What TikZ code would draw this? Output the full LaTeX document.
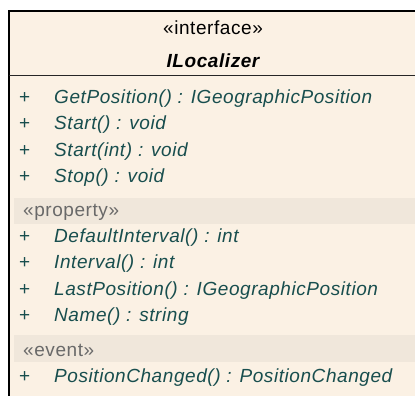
\documentclass[tikz,border=0pt]{standalone}
\usepackage{fontspec}
\setmainfont{Liberation Sans}[LetterSpace=3]
\definecolor{classbg}{RGB}{251,241,228}
\definecolor{bandbg}{RGB}{240,231,219}
\definecolor{membertext}{RGB}{24,78,78}
\definecolor{stereotext}{RGB}{105,105,105}
\tikzset{
  txt/.style={inner sep=0pt, font=\fontsize{19}{21}\selectfont},
  vis/.style={txt, anchor=base west, text=membertext},
  member/.style={txt, anchor=base west, text=membertext, font=\fontsize{19}{21}\selectfont\itshape},
  group/.style={txt, anchor=base west, text=stereotext},
  head/.style={txt, anchor=base, text=black},
  band/.style={fill=bandbg, draw=none}
}
\begin{document}
\begin{tikzpicture}[x=1pt,y=-1pt]
\useasboundingbox (0,0) rectangle (415,396);
\fill[white] (0,0) rectangle (415,396);
\clip (0,0) rectangle (415,396);

% class body
\fill[classbg] (9,11) rectangle (425,410);
\draw[line width=2pt] (9,410) -- (9,11) -- (425,11);
\draw[line width=1.8pt, black!85] (9,75.5) -- (425,75.5);

% header
\node[head] (stereo) at (213,35) {«interface»};
\node[head, font=\fontsize{19}{21}\selectfont\bfseries\itshape] (cname) at (213,68) {ILocalizer};

% operations
\node[vis] (v1) at (19,103) {+};
\node[member] (m1) at (54,103) {GetPosition() : IGeographicPosition};
\node[vis] (v2) at (19,129) {+};
\node[member] (m2) at (54,129) {Start() : void};
\node[vis] (v3) at (19,156) {+};
\node[member] (m3) at (54,156) {Start(int) : void};
\node[vis] (v4) at (19,182) {+};
\node[member] (m4) at (54,182) {Stop() : void};

% properties
\fill[band] (14,198) rectangle (425,224);
\node[group] (gprop) at (23,216) {«property»};
\node[vis] (v5) at (19,242) {+};
\node[member] (m5) at (54,242) {DefaultInterval() : int};
\node[vis] (v6) at (19,268) {+};
\node[member] (m6) at (54,268) {Interval() : int};
\node[vis] (v7) at (19,295) {+};
\node[member] (m7) at (54,295) {LastPosition() : IGeographicPosition};
\node[vis] (v8) at (19,321) {+};
\node[member] (m8) at (54,321) {Name() : string};

% events
\fill[band] (14,335) rectangle (425,362);
\node[group] (gevent) at (23,356) {«event»};
\node[vis] (v9) at (19,382) {+};
\node[member] (m9) at (54,382) {PositionChanged() : PositionChanged};
\end{tikzpicture}
\end{document}
